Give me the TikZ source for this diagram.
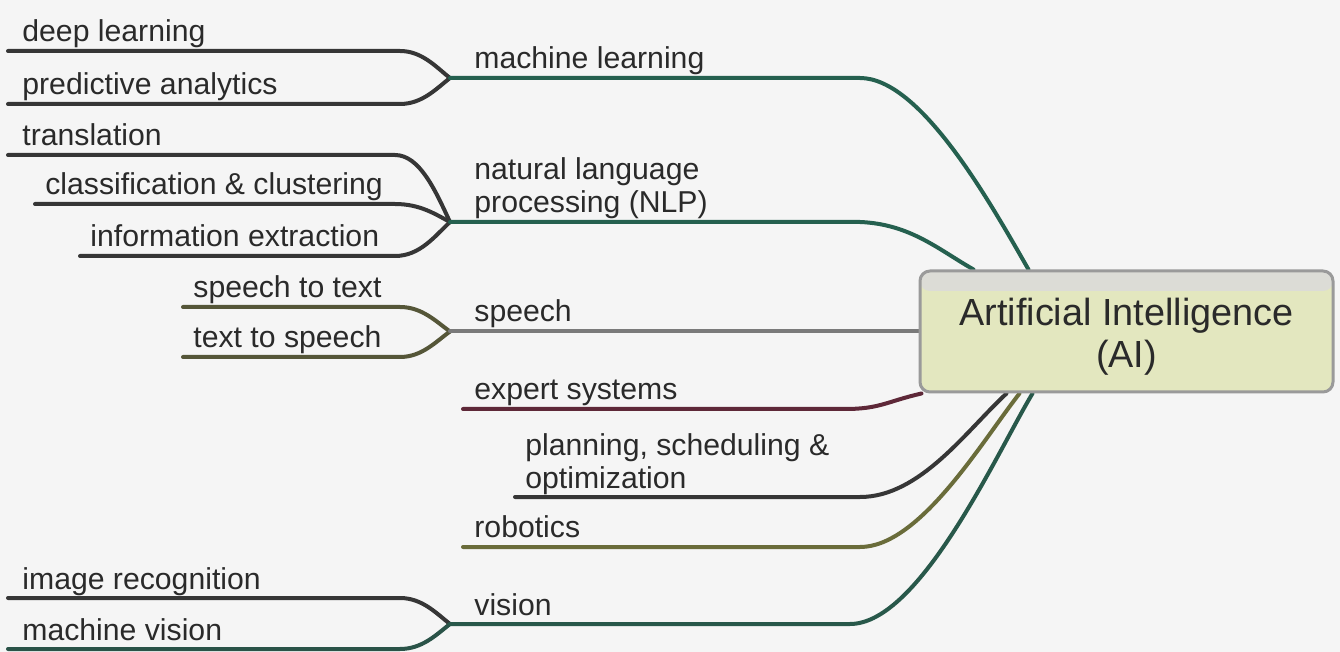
\documentclass[tikz,border=0pt]{standalone}
\usepackage{fontspec}
\setmainfont{Liberation Sans}
\usetikzlibrary{backgrounds}

\definecolor{bgc}{HTML}{F5F5F5}
\definecolor{txtc}{HTML}{2A2A2A}
\definecolor{lnc}{HTML}{363636}
\definecolor{tealc}{HTML}{25604F}
\definecolor{speechc}{HTML}{7A7A7A}
\definecolor{olivec}{HTML}{6A6C3A}
\definecolor{maroonc}{HTML}{5E2838}
\definecolor{boxfill}{HTML}{E3E7BF}
\definecolor{boxband}{HTML}{DCDCD6}
\definecolor{boxline}{HTML}{9A9A9A}

\begin{document}
\begin{tikzpicture}[x=0.5pt,y=-0.5pt,
  lbl/.style={anchor=base west, inner sep=0pt, text=txtc,
    font=\fontsize{15.1}{16.5}\selectfont, align=left},
  conn/.style={line width=2pt, line cap=round, draw=lnc},
  central/.style={draw=boxline, line width=1.5pt, rounded corners=5pt,
    fill=boxfill, minimum width=206.5pt, minimum height=60.5pt,
    inner sep=0pt, align=center, text=txtc,
    font=\fontsize{18.9}{21}\selectfont,
    path picture={\fill[boxband] (path picture bounding box.north west)
      rectangle ([yshift=-10pt]path picture bounding box.north east);}},
]
\useasboundingbox (0,0) rectangle (1340,652);

% central topic
\node[central] (ai) at (1126.5,331.5) {\rule{0pt}{18.5pt}Artificial Intelligence\\(AI)};

% branch labels (anchored at the baseline of their last line)
\node[lbl] (ml)  at (474,69)  {machine learning};
\node[lbl] (nlp) at (474,213) {natural language\\processing (NLP)};
\node[lbl] (sp)  at (474,322) {speech};
\node[lbl] (es)  at (474,400) {expert systems};
\node[lbl] (pso) at (525,488) {planning, scheduling \&\\optimization};
\node[lbl] (rob) at (474,538) {robotics};
\node[lbl] (vis) at (474,615) {vision};

% sub-branch labels
\node[lbl] (dl)  at (22,42)   {deep learning};
\node[lbl] (pa)  at (22,95)   {predictive analytics};
\node[lbl] (tr)  at (22,146)  {translation};
\node[lbl] (cc)  at (45,195)  {classification \& clustering};
\node[lbl] (ie)  at (90,247)  {information extraction};
\node[lbl] (stt) at (193,298) {speech to text};
\node[lbl] (tts) at (193,348) {text to speech};
\node[lbl] (ir)  at (22,589)  {image recognition};
\node[lbl] (mv)  at (22,640)  {machine vision};

% junctions where sub-branches meet their branch
\coordinate (jml)  at (450,78);
\coordinate (jnlp) at (450,222);
\coordinate (jsp)  at (450,331.5);
\coordinate (jvis) at (450,624);

% free ends of the underlines
\coordinate (dl-s)  at (8,51);
\coordinate (pa-s)  at (8,104);
\coordinate (tr-s)  at (8,155);
\coordinate (cc-s)  at (35,204);
\coordinate (ie-s)  at (80,256);
\coordinate (stt-s) at (183,307);
\coordinate (tts-s) at (183,357);
\coordinate (ir-s)  at (8,598);
\coordinate (mv-s)  at (8,649);
\coordinate (es-s)  at (463,409);
\coordinate (pso-s) at (515,497);
\coordinate (rob-s) at (463,547);

% entry points on the central box
\coordinate (ai-ml)  at ([xshift=55pt]ai.north west);
\coordinate (ai-nlp) at ([xshift=27.5pt]ai.north west);
\coordinate (ai-es)  at ([xshift=1.5pt]ai.south west);
\coordinate (ai-pso) at ([xshift=44pt]ai.south west);
\coordinate (ai-rob) at ([xshift=50.5pt]ai.south west);
\coordinate (ai-vis) at ([xshift=57pt]ai.south west);

\begin{pgfonlayer}{background}
\fill[bgc] (0,0) rectangle (1340,652);

% sub-branch connectors
\draw[conn] (dl-s) -- ++(392,0) .. controls +(22,0) and +(-14,-11) .. (jml);
\draw[conn] (pa-s) -- ++(392,0) .. controls +(22,0) and +(-14,11) .. (jml);
\draw[conn] (tr-s) -- ++(387,0) .. controls +(25,0) and +(-14,-30) .. (jnlp);
\draw[conn] (cc-s) -- ++(360,0) .. controls +(25,0) and +(-15,-8) .. (jnlp);
\draw[conn] (ie-s) -- ++(315,0) .. controls +(25,0) and +(-15,14) .. (jnlp);
\draw[conn,draw=olivec!60!lnc] (stt-s) -- ++(217,0) .. controls +(22,0) and +(-14,-10) .. (jsp);
\draw[conn,draw=olivec!60!lnc] (tts-s) -- ++(217,0) .. controls +(22,0) and +(-14,10) .. (jsp);
\draw[conn] (ir-s) -- ++(392,0) .. controls +(22,0) and +(-14,-11) .. (jvis);
\draw[conn,draw=tealc!70!lnc] (mv-s) -- ++(392,0) .. controls +(22,0) and +(-14,11) .. (jvis);

% branch connectors into the central box
\draw[conn,draw=tealc] (jml) -- ++(410,0) .. controls +(60,0) and +(-40,-70) .. (ai-ml);
\draw[conn,draw=tealc] (jnlp) -- ++(410,0) .. controls +(50,2) and +(-35,-20) .. (ai-nlp);
\draw[conn,draw=speechc] (jsp) -- (jsp -| ai.west);
\draw[conn,draw=maroonc] (es-s) -- ++(382,0) .. controls +(35,0) and +(-35,8) .. (ai-es);
\draw[conn] (pso-s) -- ++(345,0) .. controls +(60,0) and +(-40,37) .. (ai-pso);
\draw[conn,draw=olivec] (rob-s) -- ++(397,0) .. controls +(60,0) and +(-37,47) .. (ai-rob);
\draw[conn,draw=tealc!80!lnc] (jvis) -- ++(400,0) .. controls +(70,0) and +(-35,58) .. (ai-vis);
\end{pgfonlayer}
\end{tikzpicture}
\end{document}
